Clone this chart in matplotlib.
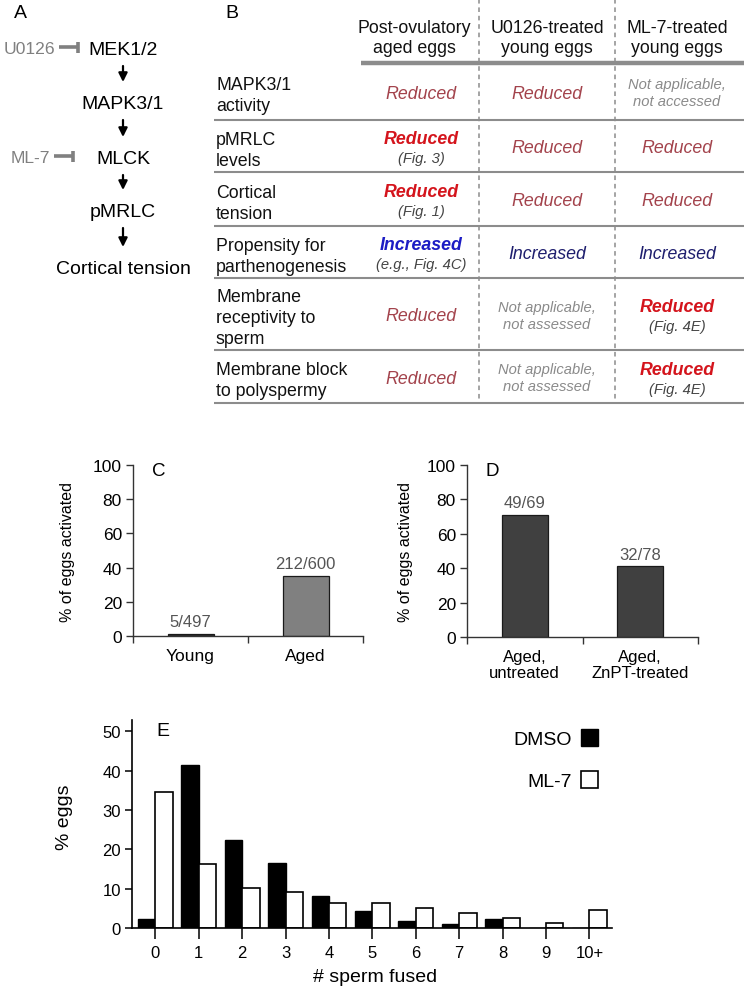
import matplotlib
matplotlib.use('Agg')
import matplotlib.pyplot as plt
from matplotlib.patches import Patch
import numpy as np

plt.rcParams['font.family'] = ['Liberation Sans', 'DejaVu Sans']

W, H = 750, 995

# ---------------- data ----------------
# Panel A
pathway = ['MEK1/2', 'MAPK3/1', 'MLCK', 'pMRLC', 'Cortical tension']
inhibitor_names = ['U0126', 'ML-7']
inhibitor_targets = [0, 2]

# Panel B
col_headers = ['Post-ovulatory\naged eggs', 'U0126-treated\nyoung eggs', 'ML-7-treated\nyoung eggs']
row_labels = ['MAPK3/1\nactivity', 'pMRLC\nlevels', 'Cortical\ntension',
              'Propensity for\nparthenogenesis', 'Membrane\nreceptivity to\nsperm',
              'Membrane block\nto polyspermy']
cell_text = [
    ['Reduced', 'Reduced', 'Not applicable,\nnot accessed'],
    ['Reduced', 'Reduced', 'Reduced'],
    ['Reduced', 'Reduced', 'Reduced'],
    ['Increased', 'Increased', 'Increased'],
    ['Reduced', 'Not applicable,\nnot assessed', 'Reduced'],
    ['Reduced', 'Not applicable,\nnot assessed', 'Reduced'],
]
cell_kind = [
    ['r', 'r', 'na'],
    ['R', 'r', 'r'],
    ['R', 'r', 'r'],
    ['I', 'i', 'i'],
    ['r', 'na', 'R'],
    ['r', 'na', 'R'],
]
cell_ref = [
    [None, None, None],
    ['(Fig. 3)', None, None],
    ['(Fig. 1)', None, None],
    ['(e.g., Fig. 4C)', None, None],
    [None, None, '(Fig. 4E)'],
    [None, None, '(Fig. 4E)'],
]

# Panel C
c_cats = ['Young', 'Aged']
c_vals = [1.0, 35.3]
c_counts = ['5/497', '212/600']

# Panel D
d_cats = ['Aged,\nuntreated', 'Aged,\nZnPT-treated']
d_vals = [71.0, 41.0]
d_counts = ['49/69', '32/78']

# Panel E
e_cats = ['0', '1', '2', '3', '4', '5', '6', '7', '8', '9', '10+']
e_dmso = [2.2, 41.4, 22.4, 16.5, 8.1, 4.2, 1.8, 0.9, 2.2, 0.0, 0.0]
e_ml7 = [34.5, 16.4, 10.1, 9.2, 6.3, 6.3, 5.1, 3.7, 2.5, 1.2, 4.7]

# ---------------- figure ----------------
fig = plt.figure(figsize=(W / 100, H / 100), dpi=100)


def fr(l, t, r, b):
    return [l / W, 1 - b / H, (r - l) / W, (b - t) / H]


ov = fig.add_axes([0, 0, 1, 1])
ov.set_xlim(0, W)
ov.set_ylim(H, 0)
ov.axis('off')
ov.set_zorder(10)

PX = 100 / 72.0


def mtext(x, yc, s, step, fs, **kw):
    parts = s.split('\n')
    n = len(parts)
    for i, p in enumerate(parts):
        y = yc + (i - (n - 1) / 2) * step + 0.36 * fs * PX
        ov.text(x, y, p, va='baseline', fontsize=fs, **kw)


# ---- Panel A ----
ov.text(20, 14, 'A', fontsize=14, ha='center', va='center')
a_x = 123
a_y = [48, 102, 157, 210, 267]
for name, y in zip(pathway, a_y):
    mtext(a_x, y, name, 20, 14, ha='center')
for i in range(len(pathway) - 1):
    ov.annotate('', xy=(a_x, a_y[i + 1] - 19), xytext=(a_x, a_y[i] + 19),
                arrowprops=dict(arrowstyle='-|>', color='black', lw=1.6,
                                mutation_scale=13, shrinkA=0, shrinkB=0))
grey = '#808080'
inh_right = [55, 50]
for name, tgt, xr in zip(inhibitor_names, inhibitor_targets, inh_right):
    y = a_y[tgt]
    mtext(xr, y, name, 20, 12.6, ha='right', color=grey)
    ov.plot([xr + 4, xr + 23], [y, y], color=grey, lw=2.6, solid_capstyle='butt')
    ov.plot([xr + 23, xr + 23], [y - 5.5, y + 5.5], color=grey, lw=2.6, solid_capstyle='butt')

# ---- Panel B ----
ov.text(232, 14, 'B', fontsize=14, ha='center', va='center')
tfs = 12.8
col_x = [414, 547, 677]
val_x = [421, 547, 677]
for cx, h in zip(col_x, col_headers):
    mtext(cx, 37, h, 20, tfs, ha='center', color='#111111')

row_lines = [121, 173, 227, 279, 351, 404]
row_tops = [64] + row_lines[:-1]
row_centers = [(a + b) / 2 for a, b in zip(row_tops, row_lines)]
line_col = '#8c8c8c'
ov.plot([361, 744], [64, 64], color=line_col, lw=3.2, solid_capstyle='butt')
for y in row_lines:
    ov.plot([214, 744], [y, y], color=line_col, lw=1.5, solid_capstyle='butt')
for x in [479, 615]:
    ov.plot([x, x], [0, 404], color=line_col, lw=1.1, ls=(0, (3, 2.5)))

for lab, yc in zip(row_labels, row_centers):
    mtext(216, yc + 2, lab, 21, tfs, ha='left', color='#111111')

styles = {
    'r': dict(color='#a3434c', style='italic', weight='normal', fontsize=tfs),
    'R': dict(color='#d4141c', style='italic', weight='bold', fontsize=tfs),
    'i': dict(color='#1e1e6e', style='italic', weight='normal', fontsize=tfs),
    'I': dict(color='#1c1cc4', style='italic', weight='bold', fontsize=tfs),
    'na': dict(color='#8a8a8a', style='italic', weight='normal', fontsize=10.6),
}
for r in range(len(row_labels)):
    yc = row_centers[r]
    for c in range(3):
        txt = cell_text[r][c]
        st = dict(styles[cell_kind[r][c]])
        fs = st.pop('fontsize')
        ref = cell_ref[r][c]
        if ref is None:
            step = 17 if '\n' in txt else 20
            mtext(val_x[c], yc, txt, step, fs, ha='center', fontstyle=st['style'],
                  fontweight=st['weight'], color=st['color'])
        else:
            mtext(val_x[c], yc - 9, txt, 20, fs, ha='center', fontstyle=st['style'],
                  fontweight=st['weight'], color=st['color'])
            mtext(val_x[c], yc + 11, ref, 20, 10.6, ha='center', fontstyle='italic',
                  color='#444444')

# ---- Panels C & D ----
def bar_panel(rect, cats, vals, counts, color, letter, letter_pos, lab_fs, ylab_x):
    ax = fig.add_axes(fr(*rect))
    x = np.arange(len(cats))
    ax.bar(x, vals, width=0.4, color=color, edgecolor='#1a1a1a', linewidth=0.9)
    for xi, v, s in zip(x, vals, counts):
        ax.annotate(s, (xi, v), xytext=(0, 3.5), textcoords='offset points',
                    ha='center', va='bottom', fontsize=12, color='#555555')
    ax.set_xlim(-0.5, len(cats) - 0.5)
    ax.set_ylim(0, 100)
    ax.set_yticks([0, 20, 40, 60, 80, 100])
    ax.set_xticks(np.arange(len(cats) + 1) - 0.5)
    ax.set_xticklabels([])
    ax.set_xticks(x, minor=True)
    ax.set_xticklabels(cats, minor=True, fontsize=lab_fs, linespacing=1.05)
    ax.tick_params(axis='x', which='minor', length=0, pad=9)
    ax.tick_params(axis='x', which='major', length=5, width=1, color='#333333', direction='out')
    ax.tick_params(axis='y', length=5, width=1, color='#333333', labelsize=12.5, pad=3)
    for s in ['top', 'right']:
        ax.spines[s].set_visible(False)
    for s in ['left', 'bottom']:
        ax.spines[s].set_color('#333333')
        ax.spines[s].set_linewidth(1)
    ax.set_ylabel('% of eggs activated', fontsize=11.5, va='center')
    ax.yaxis.set_label_coords(ylab_x, 0.5)
    ov.text(letter_pos[0], letter_pos[1], letter, fontsize=13.5, ha='center', va='center')
    return ax


bar_panel((133, 466, 363, 637), c_cats, c_vals, c_counts, ['#2e2e2e', '#808080'],
          'C', (159, 471), 12.5, -0.283)
bar_panel((467, 466, 698, 638), d_cats, d_vals, d_counts, '#404040',
          'D', (492, 471), 12, -0.268)

# ---- Panel E ----
axe = fig.add_axes(fr(132, 721, 612, 929))
xe = np.arange(len(e_cats))
bw = 0.40
axe.bar(xe - bw / 2, e_dmso, width=bw, color='black', edgecolor='black', linewidth=1.0,
        label='DMSO')
axe.bar(xe + bw / 2, e_ml7, width=bw, color='white', edgecolor='black', linewidth=1.2,
        label='ML-7')
axe.set_xlim(-0.54, 10.52)
axe.set_ylim(0, 52.9)
axe.set_yticks([0, 10, 20, 30, 40, 50])
axe.set_xticks(xe)
axe.set_xticklabels(e_cats)
axe.tick_params(axis='x', length=8, width=1.1, labelsize=12, pad=4)
axe.tick_params(axis='y', length=5, width=1.1, labelsize=12, pad=3)
for s in ['top', 'right']:
    axe.spines[s].set_visible(False)
for s in ['left', 'bottom']:
    axe.spines[s].set_linewidth(1.2)
axe.set_ylabel('% eggs', fontsize=14, va='center')
axe.yaxis.set_label_coords(-0.14, 0.536)
axe.set_xlabel('# sperm fused', fontsize=14, va='center')
axe.xaxis.set_label_coords(0.506, -0.234)
ov.text(163, 731, 'E', fontsize=14, ha='center', va='center')
handles = [Patch(facecolor='black', edgecolor='black', linewidth=1.0, label='DMSO'),
           Patch(facecolor='white', edgecolor='black', linewidth=1.2, label='ML-7')]
fig.legend(handles=handles, loc='upper right', bbox_to_anchor=(598 / W, 1 - 730 / H),
           bbox_transform=fig.transFigure, frameon=False, markerfirst=False,
           fontsize=14, handlelength=0.88, handleheight=0.93, handletextpad=0.45,
           labelspacing=1.2, borderpad=0, borderaxespad=0)

fig.savefig('out.png', dpi=100)
